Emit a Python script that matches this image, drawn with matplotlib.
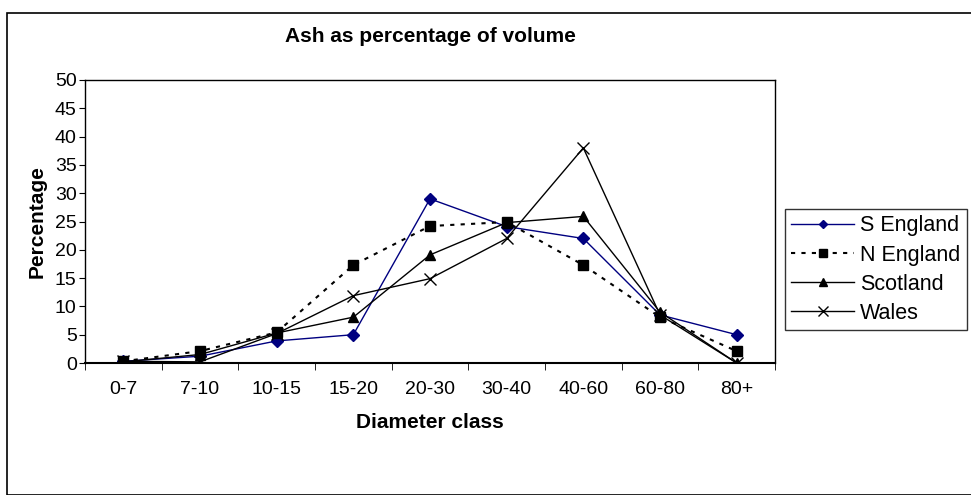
import matplotlib.pyplot as plt
from matplotlib.patches import Rectangle

plt.rcParams['font.family'] = ['Liberation Sans', 'DejaVu Sans']

classes = ["0-7", "7-10", "10-15", "15-20", "20-30", "30-40", "40-60", "60-80", "80+"]
s_england = [0.3, 1.2, 3.9, 5.0, 29.0, 24.1, 22.0, 8.5, 5.0]
n_england = [0.3, 2.1, 5.4, 17.3, 24.2, 24.9, 17.3, 8.1, 2.1]
scotland = [0.2, 1.5, 5.3, 8.1, 19.1, 24.8, 25.9, 9.0, 0.0]
wales = [0.3, 0.2, 5.2, 11.9, 14.9, 22.0, 38.0, 8.5, 0.0]

fig = plt.figure(figsize=(9.71, 4.95), dpi=100)

# outer chart border (right/bottom run off the image in the reference)
fig.patches.append(Rectangle((7 / 971, 0), 2, 1 - 13 / 495, transform=fig.transFigure,
                             fill=False, edgecolor="black", linewidth=1.2))

ax = fig.add_axes([85 / 971, 1 - 363 / 495, (775 - 85) / 971, (363 - 80) / 495])

x = range(len(classes))
ax.plot(x, s_england, color="#000080", lw=1, marker="D", ms=6, label="S England")
ax.plot(x, n_england, color="black", lw=1.5, ls=(0, (2, 3)), marker="s", ms=7, label="N England")
ax.plot(x, scotland, color="black", lw=1, marker="^", ms=7, label="Scotland")
ax.plot(x, wales, color="black", lw=1, marker="x", ms=9, mew=1, label="Wales")

ax.set_xlim(-0.5, len(classes) - 0.5)
ax.set_ylim(0, 50)
ax.set_yticks(range(0, 51, 5))
ax.set_xticks(x)
ax.set_xticklabels(classes)
ax.set_xticks([i + 0.5 for i in range(-1, len(classes))], minor=True)
ax.tick_params(axis="x", which="major", length=0, pad=13, labelsize=14)
ax.tick_params(axis="x", which="minor", length=5, direction="out")
ax.tick_params(axis="y", length=4, direction="out", pad=2, labelsize=14)
for s in ax.spines.values():
    s.set_linewidth(1)
ax.spines["bottom"].set_linewidth(1.5)

ax.set_xlabel("Diameter class", fontsize=15, fontweight="bold", labelpad=11)
ax.set_ylabel("Percentage", fontsize=15, fontweight="bold", labelpad=6)
fig.text(0.5 * (85 + 775) / 971, 1 - 36 / 495, "Ash as percentage of volume",
         ha="center", va="center", fontsize=15, fontweight="bold")

leg = fig.legend(loc="upper left", bbox_to_anchor=(785 / 971, 1 - 209 / 495),
                 fontsize=15.5, frameon=True, fancybox=False, edgecolor="black",
                 handlelength=2.9, handletextpad=0.3, labelspacing=0.38,
                 borderpad=0.3, borderaxespad=0, markerscale=0.75)
leg.get_frame().set_linewidth(1)

plt.savefig("out.png", dpi=100)
